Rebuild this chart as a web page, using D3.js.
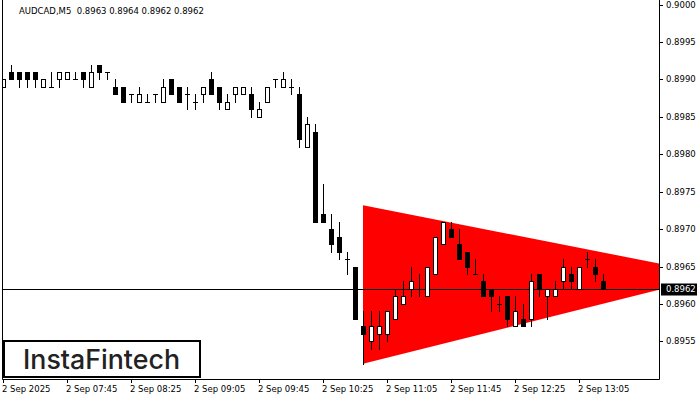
<!DOCTYPE html>
<html><head><meta charset="utf-8">
<script src="https://cdn.jsdelivr.net/npm/d3@7/dist/d3.min.js"></script>
<style>
html,body{margin:0;padding:0;background:#fff;}
svg{display:block;}
text{font-family:"DejaVu Sans",sans-serif;}
</style></head>
<body>
<svg id="chart" width="700" height="400"></svg>
<script>
// ---- data (4-digit AUDCAD M5 candles, 07:05 .. 13:20) ----
const opens  = [.8989,.8991,.8991,.8991,.8991,.8989,.8989,.8990,.8990,.8990,.8991,.8989,.8992,.8991,.8989,.8989,.8988,.8987,.8987,.8988,
                .8987,.8990,.8989,.8988,.8987,.8988,.8990,.8989,.8986,.8988,.8988,.8988,.8985,.8987,.8990,.8989,.8989,.8988,.8981,.8983,
                .8972,.8970,.8969,.8966,.8965,.8957,.8955,.8956,.8956,.8958,.8960,.8962,.8962,.8961,.8964,.8968,.8970,.8968,.8967,.8964,
                .8963,.8962,.8960,.8961,.8957,.8958,.8958,.8964,.8961,.8961,.8963,.8964,.8962,.8966,.8965,.8963];
const highs  = [.8990,.8992,.8991,.8991,.8991,.8990,.8991,.8991,.8991,.8991,.8991,.8992,.8992,.8991,.8990,.8989,.8988,.8989,.8988,.8988,
                .8990,.8990,.8989,.8989,.8988,.8989,.8991,.8989,.8988,.8989,.8989,.8989,.8987,.8989,.8990,.8991,.8990,.8989,.8985,.8984,
                .8976,.8972,.8971,.8967,.8965,.8959,.8959,.8959,.8959,.8962,.8963,.8965,.8964,.8965,.8969,.8971,.8971,.8970,.8967,.8966,
                .8964,.8962,.8961,.8961,.8961,.8960,.8964,.8964,.8962,.8963,.8966,.8965,.8965,.8967,.8966,.8964];
const lows   = [.8989,.8990,.8989,.8989,.8989,.8989,.8989,.8989,.8990,.8990,.8989,.8989,.8990,.8990,.8988,.8987,.8987,.8987,.8987,.8987,
                .8987,.8988,.8987,.8986,.8986,.8987,.8988,.8986,.8986,.8987,.8988,.8985,.8985,.8987,.8989,.8989,.8988,.8981,.8981,.8971,
                .8971,.8967,.8966,.8964,.8958,.8952,.8954,.8954,.8955,.8958,.8960,.8961,.8961,.8961,.8964,.8968,.8969,.8966,.8964,.8964,
                .8961,.8959,.8959,.8957,.8957,.8957,.8957,.8961,.8958,.8961,.8962,.8962,.8962,.8965,.8963,.8962];
const closes = [.8990,.8990,.8990,.8990,.8990,.8990,.8989,.8991,.8991,.8990,.8990,.8991,.8991,.8991,.8988,.8987,.8988,.8988,.8987,.8988,
                .8989,.8988,.8987,.8988,.8987,.8989,.8988,.8987,.8987,.8989,.8989,.8986,.8986,.8989,.8990,.8990,.8989,.8982,.8984,.8971,
                .8971,.8968,.8967,.8966,.8958,.8956,.8957,.8957,.8959,.8961,.8961,.8963,.8962,.8965,.8969,.8971,.8969,.8966,.8965,.8964,
                .8961,.8961,.8960,.8958,.8959,.8957,.8963,.8962,.8962,.8962,.8965,.8963,.8965,.8966,.8964,.8962];
const xTickIndex  = [0,8,16,24,32,40,48,56,64,72];
const xTickLabels = ["2 Sep 2025","2 Sep 07:45","2 Sep 08:25","2 Sep 09:05","2 Sep 09:45","2 Sep 10:25","2 Sep 11:05","2 Sep 11:45","2 Sep 12:25","2 Sep 13:05"];
const yTicks = [0.8955,0.8960,0.8965,0.8970,0.8975,0.8980,0.8985,0.8990,0.8995,0.9000];
const currentPrice = 0.8962;
// triangle pattern: [bar index, price] vertices
const triangleIdx    = [45, 82, 82, 45];
const trianglePrices = [0.89732, 0.89654, 0.89619, 0.89520];
const title = "AUDCAD,M5  0.8963 0.8964 0.8962 0.8962";

// ---- layout ----
const svg = d3.select("#chart");
const L = 2, R = 659, T = 0, B = 379;
const x = d3.scaleLinear().domain([0, 82]).range([3, 659]);
const y = d3.scaleLinear().domain([0.8950, 0.9000]).range([378.7, 4.7]);
const ry = v => Math.round(y(v));

svg.append("defs").append("clipPath").attr("id","plot")
  .append("rect").attr("x",L+1).attr("y",T).attr("width",R-L-1).attr("height",B-T);

const plot = svg.append("g").attr("clip-path","url(#plot)");

// triangle
plot.append("polygon")
  .attr("points", triangleIdx.map((d,i)=>[x(d), y(trianglePrices[i])].join(",")).join(" "))
  .attr("fill","#ff0000");

// current price line
plot.append("line").attr("x1",L).attr("x2",R)
  .attr("y1",ry(currentPrice)+0.5).attr("y2",ry(currentPrice)+0.5)
  .attr("stroke","#000").attr("stroke-width",1);

// candles
const candles = opens.map((o,i)=>({i,o,h:highs[i],l:lows[i],c:closes[i]}));
const g = plot.append("g");
candles.forEach(d=>{
  const cx = Math.round(x(d.i));
  g.append("line").attr("x1",cx+0.5).attr("x2",cx+0.5)
    .attr("y1",ry(d.h)).attr("y2",ry(d.l)+1)
    .attr("stroke","#000").attr("stroke-width",1);
  const top = ry(Math.max(d.o,d.c)), bot = ry(Math.min(d.o,d.c));
  if (d.o === d.c) {
    g.append("line").attr("x1",cx-2).attr("x2",cx+3)
      .attr("y1",top+0.5).attr("y2",top+0.5).attr("stroke","#000");
  } else {
    g.append("rect").attr("x",cx-1.5).attr("y",top+0.5)
      .attr("width",4).attr("height",bot-top)
      .attr("fill", d.c > d.o ? "#fff" : "#000")
      .attr("stroke","#000").attr("stroke-width",1);
  }
});

// frame
svg.append("path")
  .attr("d",`M${L+0.5},${T} V${B+0.5} H${R+0.5} V${T}`)
  .attr("fill","none").attr("stroke","#000");

// y axis
const ya = svg.append("g");
yTicks.forEach(v=>{
  const yy = ry(v)+0.5;
  ya.append("line").attr("x1",R+1).attr("x2",R+4).attr("y1",yy).attr("y2",yy).attr("stroke","#000");
  ya.append("text").attr("x",666).attr("y",yy).attr("dy","0.35em")
    .attr("font-size","8.5px").attr("fill","#000").text(v.toFixed(4));
});
// current price tag
const cpy = ry(currentPrice)+0.5;
ya.append("rect").attr("x",661).attr("y",cpy-6).attr("width",36).attr("height",12).attr("fill","#000");
ya.append("text").attr("x",666).attr("y",cpy).attr("dy","0.35em")
  .attr("font-size","8.5px").attr("fill","#fff").text(currentPrice.toFixed(4));

// x axis
const xa = svg.append("g");
xTickIndex.forEach((idx,k)=>{
  const xx = Math.round(x(idx))+0.5;
  xa.append("line").attr("x1",xx).attr("x2",xx).attr("y1",B).attr("y2",B+4).attr("stroke","#000");
  xa.append("text").attr("x",xx-1.5).attr("y",392)
    .attr("font-size","8.5px").attr("fill","#000").text(xTickLabels[k]);
});

// title
svg.append("text").attr("x",19).attr("y",14).attr("font-size","8.5px").attr("fill","#000")
  .attr("xml:space","preserve").style("white-space","pre").text(title);

// logo
svg.append("rect").attr("x",4).attr("y",341).attr("width",196).attr("height",36)
  .attr("fill","#fff").attr("stroke","#000").attr("stroke-width",2);
svg.append("text").attr("x",23).attr("y",369)
  .style("font-family","Inter, Lato, sans-serif").attr("font-weight",500)
  .attr("font-size","27px").attr("fill","#222")
  .attr("textLength",157).attr("lengthAdjust","spacingAndGlyphs")
  .text("InstaFintech");
</script>
</body></html>
